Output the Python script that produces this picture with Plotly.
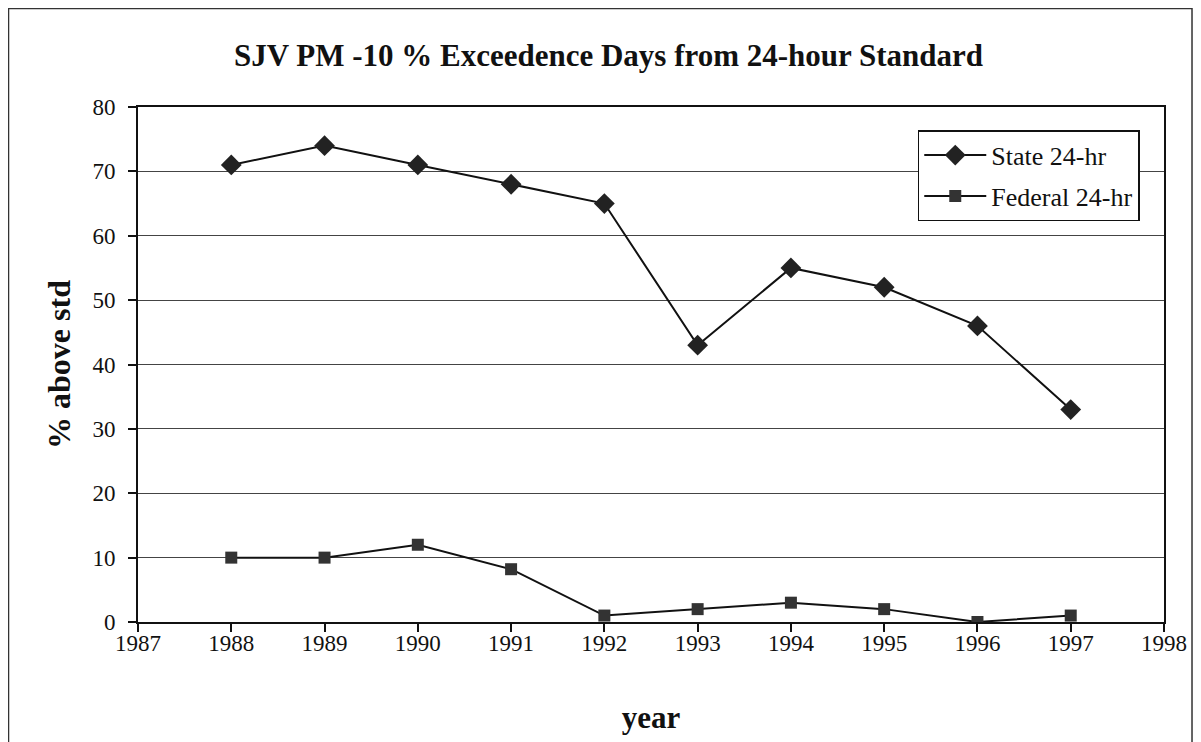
import plotly.graph_objects as go

years = [1988, 1989, 1990, 1991, 1992, 1993, 1994, 1995, 1996, 1997]
state_24hr = [71, 74, 71, 68, 65, 43, 55, 52, 46, 33]
federal_24hr = [10, 10, 12, 8.2, 1, 2, 3, 2, 0, 1]
x_ticks = list(range(1987, 1999))
y_ticks = list(range(0, 90, 10))

FONT = "Liberation Serif"

fig = go.Figure()
fig.add_trace(go.Scatter(
    x=years, y=state_24hr, name="State 24-hr", mode="lines+markers",
    legendgroup="a",
    line=dict(color="#111111", width=2),
    marker=dict(symbol="diamond", size=16, color="#222222"),
))
fig.add_trace(go.Scatter(
    x=years, y=federal_24hr, name="Federal 24-hr", mode="lines+markers",
    legendgroup="b",
    line=dict(color="#111111", width=2),
    marker=dict(symbol="square", size=12, color="#333333"),
))

fig.update_layout(
    width=1201, height=742,
    margin=dict(l=130, r=45, t=99, b=128),
    paper_bgcolor="white", plot_bgcolor="white",
    font=dict(family=FONT, color="#111111", size=23),
    title=dict(text="<b>SJV PM -10 % Exceedence Days from 24-hour Standard</b>",
               x=0.5, xanchor="center", y=0.937, yanchor="middle",
               font=dict(family=FONT, size=31, color="#111111")),
    showlegend=True,
    legend=dict(x=0.76, y=0.955, xanchor="left", yanchor="top",
                traceorder="grouped",
                bgcolor="white", bordercolor="#111111", borderwidth=1.5,
                font=dict(family=FONT, size=26), tracegroupgap=4,
                itemwidth=62),
    shapes=[dict(type="rect", xref="paper", yref="paper",
                 x0=-0.1262, x1=1.0273, y0=-0.3, y1=1.1913,
                 line=dict(color="#333333", width=1.5), layer="below")],
)

fig.update_xaxes(
    range=[1987, 1998], tickvals=x_ticks, ticktext=[str(v) for v in x_ticks],
    showgrid=False, showline=True, linecolor="#111111", linewidth=2, mirror=True,
    ticks="outside", ticklen=8, tickcolor="#111111", tickwidth=1.5,
    tickfont=dict(family=FONT, size=23), ticklabelstandoff=-9,
    title=dict(text="<b>year</b>", font=dict(family=FONT, size=31), standoff=52),
    zeroline=False,
)
fig.update_yaxes(
    range=[0, 80], tickvals=y_ticks,
    showgrid=True, gridcolor="#444444", gridwidth=1.2,
    showline=True, linecolor="#111111", linewidth=2, mirror=True,
    ticks="outside", ticklen=8, tickcolor="#111111", tickwidth=1.5,
    tickfont=dict(family=FONT, size=23), ticklabelstandoff=8,
    title=dict(text="<b>% above std</b>", font=dict(family=FONT, size=32), standoff=12),
    zeroline=False,
)

fig.write_html("out.html")
